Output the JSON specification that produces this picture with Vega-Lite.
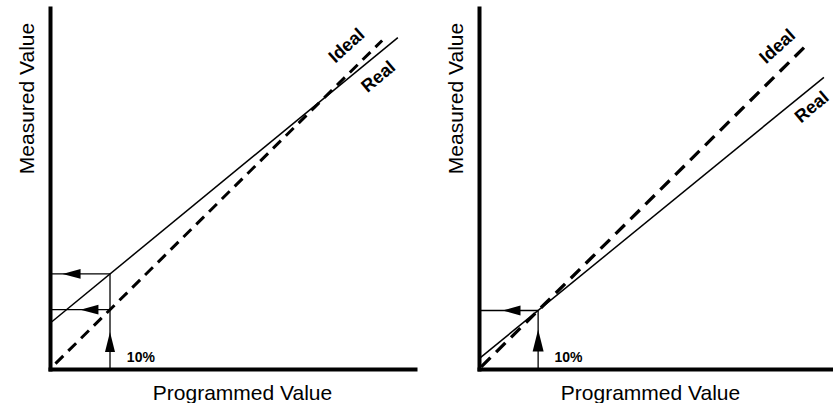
{
  "$schema": "https://vega.github.io/schema/vega-lite/v6.json",
  "padding": {"left": 16, "top": 8, "right": 0, "bottom": 0},
  "background": "white",
  "spacing": 64,
  "bounds": "flush",
  "config": {
    "view": {"stroke": null},
    "font": "Liberation Sans",
    "axis": {
      "labels": false,
      "ticks": false,
      "grid": false,
      "domainWidth": 4,
      "domainColor": "black",
      "domainCap": "square",
      "titleFont": "Liberation Sans",
      "titleFontSize": 21,
      "titleFontWeight": "normal",
      "titleColor": "black"
    }
  },
  "hconcat": [
    {
      "width": 365,
      "height": 361,
      "encoding": {
        "x": {"field": "x", "type": "quantitative", "scale": {"domain": [0, 100], "nice": false, "zero": false},
              "axis": {"title": "Programmed Value", "titlePadding": 13, "titleX": 192}},
        "y": {"field": "y", "type": "quantitative", "scale": {"domain": [0, 100], "nice": false, "zero": false},
              "axis": {"title": "Measured Value", "titlePadding": 13, "titleY": 90}}
      },
      "layer": [
        {
          "data": {"values": [{"series": "Real", "x": 0.5, "y": 13.1}, {"series": "Real", "x": 95.3, "y": 91.8}]},
          "mark": {"type": "line", "color": "black", "strokeWidth": 1.5}
        },
        {
          "data": {"values": [{"series": "Ideal", "x": 1.5, "y": 1.5}, {"series": "Ideal", "x": 91, "y": 91}]},
          "mark": {"type": "line", "color": "black", "strokeWidth": 3, "strokeDash": [11, 7]}
        },
        {
          "data": {"values": [
            {"x": 16.44, "y": 0, "x2": 16.44, "y2": 26.35},
            {"x": 0, "y": 26.35, "x2": 16.44, "y2": 26.35},
            {"x": 0, "y": 16.44, "x2": 16.44, "y2": 16.44}
          ]},
          "mark": {"type": "rule", "color": "black", "strokeWidth": 1.3},
          "encoding": {"x2": {"field": "x2"}, "y2": {"field": "y2"}}
        },
        {
          "data": {"values": [{"x": 5.9, "y": 26.35}, {"x": 10.8, "y": 16.44}]},
          "mark": {"type": "point", "shape": "M-1,0L1,-0.55L1,0.55Z", "size": 324, "filled": true, "color": "black", "opacity": 1}
        },
        {
          "data": {"values": [{"x": 16.44, "y": 7.5}]},
          "mark": {"type": "point", "shape": "M0,-1L0.5,1L-0.5,1Z", "size": 400, "filled": true, "color": "black", "opacity": 1}
        },
        {
          "data": {"values": [{"x": 24.9, "y": 1.94, "label": "10%"}]},
          "mark": {"type": "text", "fontSize": 14, "fontWeight": "bold", "align": "center", "baseline": "alphabetic", "color": "black"},
          "encoding": {"text": {"field": "label"}}
        },
        {
          "data": {"values": [{"x": 81.4, "y": 89.4, "label": "Ideal"}]},
          "mark": {"type": "text", "fontSize": 18, "fontWeight": "bold", "align": "center", "baseline": "middle", "angle": 318, "color": "black"},
          "encoding": {"text": {"field": "label"}}
        },
        {
          "data": {"values": [{"x": 90.1, "y": 80.8, "label": "Real"}]},
          "mark": {"type": "text", "fontSize": 18, "fontWeight": "bold", "align": "center", "baseline": "middle", "angle": 320, "color": "black"},
          "encoding": {"text": {"field": "label"}}
        }
      ]
    },
    {
      "width": 365,
      "height": 361,
      "encoding": {
        "x": {"field": "x", "type": "quantitative", "scale": {"domain": [0, 100], "nice": false, "zero": false},
              "axis": {"title": "Programmed Value", "titlePadding": 13, "titleX": 171}},
        "y": {"field": "y", "type": "quantitative", "scale": {"domain": [0, 100], "nice": false, "zero": false},
              "axis": {"title": "Measured Value", "titlePadding": 13, "titleY": 90}}
      },
      "layer": [
        {
          "data": {"values": [{"series": "Real", "x": 0.3, "y": 3.1}, {"series": "Real", "x": 94.5, "y": 80.8}]},
          "mark": {"type": "line", "color": "black", "strokeWidth": 1.5}
        },
        {
          "data": {"values": [{"series": "Ideal", "x": 0.6, "y": 0.6}, {"series": "Ideal", "x": 90.5, "y": 90.5}]},
          "mark": {"type": "line", "color": "black", "strokeWidth": 3.3, "strokeDash": [13, 8]}
        },
        {
          "data": {"values": [
            {"x": 16.2, "y": 0, "x2": 16.2, "y2": 16.2},
            {"x": 0, "y": 16.2, "x2": 16.2, "y2": 16.2}
          ]},
          "mark": {"type": "rule", "color": "black", "strokeWidth": 1.3},
          "encoding": {"x2": {"field": "x2"}, "y2": {"field": "y2"}}
        },
        {
          "data": {"values": [{"x": 8.9, "y": 16.2}]},
          "mark": {"type": "point", "shape": "M-1,0L1,-0.55L1,0.55Z", "size": 324, "filled": true, "color": "black", "opacity": 1}
        },
        {
          "data": {"values": [{"x": 16.2, "y": 7.9}]},
          "mark": {"type": "point", "shape": "M0,-1L0.5,1L-0.5,1Z", "size": 484, "filled": true, "color": "black", "opacity": 1}
        },
        {
          "data": {"values": [{"x": 24.5, "y": 1.94, "label": "10%"}]},
          "mark": {"type": "text", "fontSize": 14, "fontWeight": "bold", "align": "center", "baseline": "alphabetic", "color": "black"},
          "encoding": {"text": {"field": "label"}}
        },
        {
          "data": {"values": [{"x": 81.9, "y": 89.2, "label": "Ideal"}]},
          "mark": {"type": "text", "fontSize": 18, "fontWeight": "bold", "align": "center", "baseline": "middle", "angle": 318, "color": "black"},
          "encoding": {"text": {"field": "label"}}
        },
        {
          "data": {"values": [{"x": 91.3, "y": 72.4, "label": "Real"}]},
          "mark": {"type": "text", "fontSize": 18, "fontWeight": "bold", "align": "center", "baseline": "middle", "angle": 320, "color": "black"},
          "encoding": {"text": {"field": "label"}}
        }
      ]
    }
  ]
}
